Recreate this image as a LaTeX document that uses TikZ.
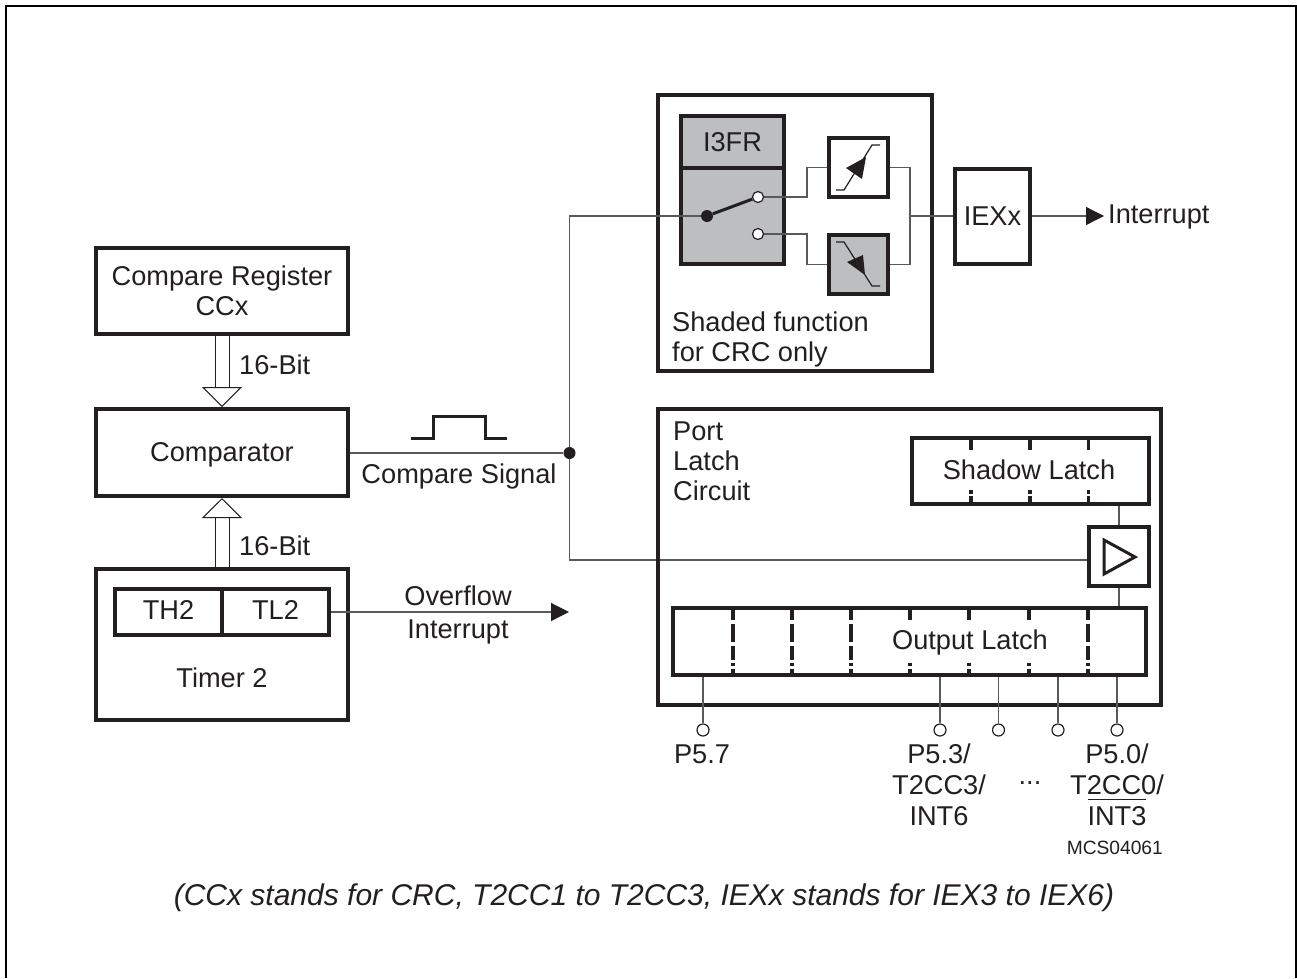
\documentclass[tikz,border=0pt]{standalone}
\usepackage{fontspec}
\setmainfont{Liberation Sans}
\usetikzlibrary{arrows.meta,calc}
\definecolor{ink}{HTML}{231F20}
\definecolor{shade}{HTML}{BCBEC0}
\definecolor{wirec}{HTML}{58595B}
\newsavebox\barbox
\newcommand\barred[1]{\sbox\barbox{#1}\rlap{\raisebox{25pt}[0pt][0pt]{\rule{\wd\barbox}{1pt}}}\usebox\barbox}
\tikzset{
  x=1pt,y=-1pt,
  every node/.style={text=ink,font=\fontsize{27.2}{30}\selectfont,inner sep=0pt,text height=18,text depth=0},
  box/.style={draw=ink,line width=4,align=center},
  greybox/.style={box,fill=shade},
  wire/.style={draw=wirec,line width=1.2},
  busarrow/.style={draw=ink,line width=1,double,double distance=13,-{Triangle[open,length=20pt,width=40pt,line width=1pt]}},
  sigarrow/.style={wire,-{Triangle[length=18pt,width=18pt,color=ink]}},
  dotj/.style={circle,fill=ink,minimum size=12,text height=0},
  pin/.style={circle,draw=ink,line width=1.2,fill=white,minimum size=12,text height=0},
  lab/.style={align=left,anchor=west},
  tick/.style={draw=ink,line width=3.2},
  glyph/.style={draw=ink,line width=1.2},
  tri/.style={fill=ink,draw=none},
  raised/.style={text depth=2.5}
}
\begin{document}
\begin{tikzpicture}
\useasboundingbox (0,0) rectangle (1297,978);
\fill[white] (0,0) rectangle (1297,978);
\draw[draw=black,line width=2] (6,978) -- (6,6) -- (1296,6) -- (1296,978);

% left column
\node[box,minimum width=252,minimum height=86,text height=48] (creg) at (222,291) {Compare Register\\CCx};
\node[box,minimum width=252,minimum height=87] (comp) at (222,452.5) {Comparator};
\node[box,minimum width=252,minimum height=151] (timer) at (222,644.5) {};
\node[minimum width=107,minimum height=46,box,raised] (th) at (168.5,612) {TH2};
\node[minimum width=107,minimum height=46,box,raised] (tl) at (275.5,612) {TL2};
\node (t2) at (222,678) {Timer 2};
\draw[busarrow] (creg) -- (comp);
\draw[busarrow] (timer) -- (comp);
\node[lab] (b1) at (239,365) {16-Bit};
\node[lab] (b2) at (239,546) {16-Bit};

% compare signal
\node[dotj] (j) at (569.5,453) {};
\draw[wire] (comp.east |- j) -- (j);
\node (cs) at (459,474) {Compare Signal};
\draw[draw=ink,line width=3] (411,438) -- (433,438) -- (433,416) -- (485,416) -- (485,438) -- (507,438);

% overflow
\coordinate (ovf) at (569,612);
\coordinate (tlout) at (331,612);
\draw[sigarrow] (tlout) -- (ovf);
\node (ov1) at (458,596) {Overflow};
\node (ov2) at (458,629) {Interrupt};

% CRC box
\node[box,minimum width=274,minimum height=276] (crc) at (795,233) {};
\node[greybox,minimum width=103,minimum height=52] (i3fr) at (732.5,142) {I3FR};
\node[greybox,minimum width=103,minimum height=96] (swbox) at (732.5,216) {};
\node[box,fill=white,minimum width=59,minimum height=59] (rise) at (858.5,167.5) {};
\node[greybox,minimum width=59,minimum height=59] (fall) at (858.5,264.5) {};
\node[box,minimum width=75,minimum height=95] (iex) at (992.5,216) {IEXx};
\node[dotj] (swp) at (707,216) {};
\node[pin,minimum size=11] (s1) at (758,197) {};
\node[pin,minimum size=11] (s2) at (758,234) {};
\draw[draw=ink,line width=3] (swp) -- (s1);
\coordinate (sp) at (910,216);
\coordinate (sl) at (807,216);
\coordinate (jtop) at (569.5,216);
\coordinate (jbot) at (569.5,560);
\coordinate (bufin) at (1087,560);
\draw[wire] (j) -- (jtop) -- (swp);
\draw[wire] (j) -- (jbot) -- (bufin);
\draw[wire] (s1) -- (s1 -| sl) |- (rise.west);
\draw[wire] (s2) -- (s2 -| sl) |- (fall.west);
\draw[wire] (rise.east) -| (sp);
\draw[wire] (fall.east) -| (sp);
\draw[wire] (sp) -- (iex.west);
\coordinate (intr) at (1104,216);
\draw[sigarrow] (iex.east) -- (intr);
\node[lab] (intl) at (1108,214) {Interrupt};
\node[lab] (sh1) at (672,322) {Shaded function};
\node[lab] (sh2) at (672,352) {for CRC only};

% trigger glyphs
\draw[glyph] (836,190) -- (844,190) -- (872,145) -- (880,145);
\fill[tri] (846,168) -- (866,157) -- (862,179) -- cycle;
\draw[glyph] (836,242) -- (844,242) -- (872,286) -- (880,286);
\fill[tri] (847,262) -- (863,255) -- (865,275) -- cycle;

% port latch circuit
\node[box,minimum width=503,minimum height=296] (port) at (909.5,557) {};
\node[lab] (pl1) at (673,431) {Port};
\node[lab] (pl2) at (673,461) {Latch};
\node[lab] (pl3) at (673,491) {Circuit};
\node[box,fill=white,minimum width=60,minimum height=59] (buf) at (1119,556.5) {};
\node[box,minimum width=237,minimum height=66] (shadow) at (1030.5,471) {};
\node (shl) at (1029,470) {Shadow Latch};
\node[box,minimum width=473,minimum height=67] (out) at (909.5,641.5) {};
\node (outl) at (970,640) {Output Latch};
\draw[draw=ink,line width=3] (1104,540) -- (1104,574) -- (1135,557) -- cycle;
\draw[wire] (shadow.south -| buf) -- (buf.north);
\draw[wire] (buf.south) -- (out.north -| buf);
\foreach \xx in {971,1030,1088.5}{
  \draw[tick] (\xx,440) -- (\xx,450);
  \draw[tick] (\xx,490) -- (\xx,493.5);
  \draw[tick] (\xx,496) -- (\xx,503);
}
\foreach \xx in {733,792,851,1088}{
  \draw[tick] (\xx,610) -- (\xx,620);
  \draw[tick] (\xx,624) -- (\xx,642);
  \draw[tick] (\xx,646) -- (\xx,660);
  \draw[tick] (\xx,662.5) -- (\xx,666);
  \draw[tick] (\xx,669) -- (\xx,675);
}
\foreach \xx in {910,969,1029}{
  \draw[tick] (\xx,610) -- (\xx,620);
  \draw[tick] (\xx,662.5) -- (\xx,666);
  \draw[tick] (\xx,669) -- (\xx,675);
}

% pins
\foreach \nm/\xx in {p7/703,p3/940,pa/998.5,pb/1058,p0/1117}{
  \node[pin] (\nm) at (\xx,730) {};
  \draw[wire] (out.south -| \nm) -- (\nm);
}
\node (l7) at (702,754) {P5.7};
\node[align=center,text height=80] (l3) at (939,785) {P5.3/\\[1pt]T2CC3/\\[1pt]INT6};
\node (dots) at (1030,775) {...};
\node[align=center,text height=80] (l0) at (1117,785) {P5.0/\\[1pt]T2CC0/\\[1pt]\barred{INT3}};
\node[anchor=east,font=\fontsize{19.2}{22}\selectfont,text height=14] (mcs) at (1163,847) {MCS04061};
\node[font=\fontsize{30}{34}\selectfont\itshape,text height=21] (cap) at (644,895) {(CCx stands for CRC, T2CC1 to T2CC3, IEXx stands for IEX3 to IEX6)};
\end{tikzpicture}
\end{document}
